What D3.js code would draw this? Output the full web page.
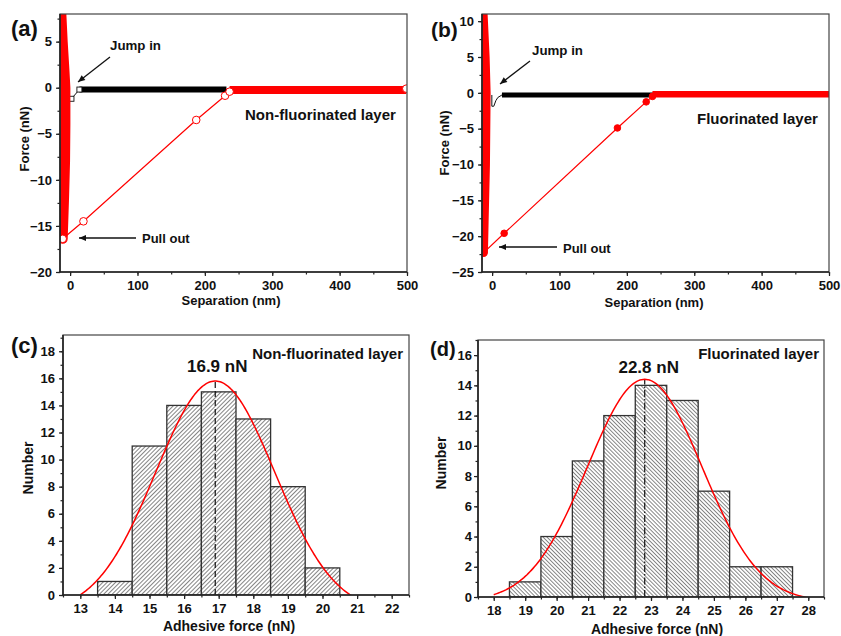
<!DOCTYPE html>
<html>
<head>
<meta charset="utf-8">
<script src="https://cdn.jsdelivr.net/npm/d3@7"></script>
<style>
  html, body { margin: 0; padding: 0; background: #fff; }
  svg text { font-family: "Liberation Sans", Arial, sans-serif; font-weight: bold; fill: #111; }
</style>
</head>
<body>
<svg id="fig" width="841" height="636"></svg>
<script>
// ---------- (a) force curve, non-fluorinated layer ----------
const jumpInA = [[-1, -0.9], [-1, -1.2], [2, -1.2], [13.8, -0.2]];
const jumpInMarksA = [[2, -1.2], [13.8, -0.2]];
const approachA = [[13.8, -0.2], [232, -0.2]];
const retractContactA = [[-13, 8], [-11, 5], [-8.5, 2], [-7, 0], [-7, -4], [-7.5, -8], [-9, -12], [-11, -16.4]];
const retractPullA = [[-11, -16.4], [19.8, -14.5], [187.2, -3.5], [230, -0.87], [236.7, -0.43]];
const retractBaseA = [[236.7, -0.25], [499, -0.25]];
const retractEndA = [[499, -0.1]];
const yTicksA = [-20, -15, -10, -5, 0, 5];

// ---------- (b) force curve, fluorinated layer ----------
const jumpInB = [[-0.4, -0.3], [-0.4, -1.87], [2.5, -1.87], [5.5, -1.1], [8.5, -0.65], [14.6, -0.3]];
const approachB = [[14.6, -0.3], [240, -0.3]];
const retractContactB = [[-13, 11], [-10, 5], [-8.5, 0], [-9.5, -10], [-11.5, -18], [-12.5, -22.3]];
const retractPullB = [[-12.5, -22.3], [17.9, -19.6], [186, -4.9], [228.7, -1.26], [238, -0.5]];
const retractBaseB = [[238, -0.2], [500, -0.2]];
const yTicksB = [-25, -20, -15, -10, -5, 0, 5, 10];

const sepTicks = [0, 100, 200, 300, 400, 500];

// ---------- (c) adhesive force histogram, non-fluorinated ----------
const binsC = [14, 15, 16, 17, 18, 19, 20];
const countsC = [1, 11, 14, 15, 13, 8, 2];
const fitC = { y0: -1.3, A: 17.1, mu: 16.9, sigma: 1.72, from: 13, to: 21 };
const meanC = 16.9;
const xTicksC = [13, 14, 15, 16, 17, 18, 19, 20, 21, 22];
const yTicksC = [0, 2, 4, 6, 8, 10, 12, 14, 16, 18];

// ---------- (d) adhesive force histogram, fluorinated ----------
const binsD = [19, 20, 21, 22, 23, 24, 25, 26, 27];
const countsD = [1, 4, 9, 12, 14, 13, 7, 2, 2];
const fitD = { y0: -0.3, A: 14.7, mu: 22.8, sigma: 1.82, from: 18, to: 28 };
const meanD = 22.8;
const xTicksD = [18, 19, 20, 21, 22, 23, 24, 25, 26, 27, 28];
const yTicksD = [0, 2, 4, 6, 8, 10, 12, 14, 16];

const svg = d3.select("#fig");
const defs = svg.append("defs");

function hatch(id, angle, gap) {
  const p = defs.append("pattern")
    .attr("id", id).attr("patternUnits", "userSpaceOnUse")
    .attr("width", gap).attr("height", 10)
    .attr("patternTransform", `rotate(${angle})`);
  p.append("rect").attr("width", gap).attr("height", 10).attr("fill", "#fff");
  p.append("line").attr("x1", gap / 2).attr("x2", gap / 2).attr("y1", 0).attr("y2", 10)
    .attr("stroke", "#666").attr("stroke-width", 0.8);
}
hatch("hatchC", 45, 3.0);
hatch("hatchD", -45, 2.8);

// Build a framed panel with scales and ticked axes
function panel(o) {
  const g = svg.append("g");
  const x = d3.scaleLinear().domain(o.xDomain).range([o.left, o.right]);
  const y = d3.scaleLinear().domain(o.yDomain).range([o.bottom, o.top]);
  const clipId = o.id + "clip";
  defs.append("clipPath").attr("id", clipId).append("rect")
    .attr("x", o.left).attr("y", o.top).attr("width", o.right - o.left).attr("height", o.bottom - o.top);
  const plot = g.append("g").attr("clip-path", `url(#${clipId})`);

  const axes = g.append("g");
  // minor ticks
  axes.append("g").attr("transform", `translate(0,${o.bottom})`)
    .call(d3.axisBottom(x).tickValues(o.xMinor).tickSize(2.5).tickSizeOuter(0).tickFormat(""));
  axes.append("g").attr("transform", `translate(${o.left},0)`)
    .call(d3.axisLeft(y).tickValues(o.yMinor).tickSize(2.5).tickSizeOuter(0).tickFormat(""));
  // major ticks
  axes.append("g").attr("transform", `translate(0,${o.bottom})`)
    .call(d3.axisBottom(x).tickValues(o.xTicks).tickSize(4).tickSizeOuter(0).tickPadding(5).tickFormat(d3.format("d")));
  axes.append("g").attr("transform", `translate(${o.left},0)`)
    .call(d3.axisLeft(y).tickValues(o.yTicks).tickSize(4).tickSizeOuter(0).tickPadding(o.yPad).tickFormat(d3.format("d")));
  axes.selectAll(".domain").remove();
  axes.selectAll(".tick line").attr("stroke", "#222").attr("stroke-width", 1.2);
  axes.selectAll(".tick text").attr("font-size", 13).attr("fill", "#111")
    .style("font-family", '"Liberation Sans", Arial, sans-serif').style("font-weight", "bold");

  // frame
  g.append("rect").attr("x", o.left).attr("y", o.top)
    .attr("width", o.right - o.left).attr("height", o.bottom - o.top)
    .attr("fill", "none").attr("stroke", "#444").attr("stroke-width", 1.2);
  g.append("line").attr("x1", o.left).attr("x2", o.left).attr("y1", o.top).attr("y2", o.bottom + 0.6)
    .attr("stroke", "#222").attr("stroke-width", 1.6);
  g.append("line").attr("x1", o.left - 0.6).attr("x2", o.right).attr("y1", o.bottom).attr("y2", o.bottom)
    .attr("stroke", "#222").attr("stroke-width", 1.6);

  // axis titles
  g.append("text").attr("x", o.xTitleX).attr("y", o.xTitleY).attr("text-anchor", "middle")
    .attr("font-size", o.titleSize).text(o.xTitle);
  g.append("text").attr("transform", `translate(${o.yTitleX},${o.yTitleY}) rotate(-90)`)
    .attr("text-anchor", "middle").attr("font-size", o.titleSize).text(o.yTitle);
  // panel letter
  g.append("text").attr("x", o.tagX).attr("y", o.tagY).attr("font-size", o.tagSize).text(o.tag);
  return { g, plot, x, y };
}

const minorRange = (a, b, s) => d3.range(a, b + s / 2, s);

// ---------- force-separation panels ----------
function forcePanel(o, d) {
  const P = panel(o);
  const line = d3.line().x(p => P.x(p[0])).y(p => P.y(p[1]));
  // approach (black)
  P.plot.append("path").attr("d", line(d.jump)).attr("fill", "none").attr("stroke", "#111").attr("stroke-width", 1);
  P.plot.append("path").attr("d", line(d.approach)).attr("fill", "none").attr("stroke", "#000").attr("stroke-width", d.appW);
  if (d.jumpMarks) {
    P.plot.selectAll(".sq").data(d.jumpMarks).join("rect")
      .attr("x", p => P.x(p[0]) - 2.5).attr("y", p => P.y(p[1]) - 2.5)
      .attr("width", 5).attr("height", 5).attr("fill", "#fff").attr("stroke", "#111").attr("stroke-width", 0.9);
  }
  // retract (red)
  P.plot.append("path").attr("d", line(d.contact)).attr("fill", "none").attr("stroke", "#ff0000")
    .attr("stroke-width", d.contactW).attr("stroke-linejoin", "round").attr("stroke-linecap", "round");
  P.plot.append("path").attr("d", line(d.base)).attr("fill", "none").attr("stroke", "#ff0000").attr("stroke-width", d.baseW);
  P.plot.append("path").attr("d", line(d.pull)).attr("fill", "none").attr("stroke", "#ff0000").attr("stroke-width", 1.2);
  P.plot.selectAll(".mk").data(d.pull.concat(d.endMarks || [])).join("circle")
    .attr("cx", p => P.x(p[0])).attr("cy", p => P.y(p[1])).attr("r", d.markR)
    .attr("fill", d.markFill).attr("stroke", "#ff0000").attr("stroke-width", 1);

  // annotations
  const arrowHead = (x1, y1, x2, y2) => {
    const a = Math.atan2(y2 - y1, x2 - x1), L = 7, w = 3;
    const bx = x2 - L * Math.cos(a), by = y2 - L * Math.sin(a);
    return `M${x2},${y2}L${bx + w * Math.sin(a)},${by - w * Math.cos(a)}L${bx - w * Math.sin(a)},${by + w * Math.cos(a)}Z`;
  };
  for (const ar of d.arrows) {
    P.g.append("line").attr("x1", ar[0]).attr("y1", ar[1]).attr("x2", ar[2]).attr("y2", ar[3])
      .attr("stroke", "#111").attr("stroke-width", 1.3);
    P.g.append("path").attr("d", arrowHead(...ar)).attr("fill", "#111");
  }
  for (const t of d.texts) {
    P.g.append("text").attr("x", t[0]).attr("y", t[1]).attr("font-size", t[3]).text(t[2]);
  }
  return P;
}

forcePanel({
  id: "a", left: 60, right: 407, top: 14, bottom: 272,
  xDomain: [-15, 500], yDomain: [-20, 8],
  xTicks: sepTicks, xMinor: minorRange(0, 500, 50),
  yTicks: yTicksA, yMinor: minorRange(-20, 7.5, 2.5), yPad: 4,
  xTitle: "Separation (nm)", xTitleX: 231, xTitleY: 305, titleSize: 13,
  yTitle: "Force (nN)", yTitleX: 29, yTitleY: 139,
  tag: "(a)", tagX: 11, tagY: 36, tagSize: 22
}, {
  jump: jumpInA, jumpMarks: jumpInMarksA, approach: approachA, appW: 6,
  contact: retractContactA, contactW: 10, base: retractBaseA, baseW: 8,
  pull: retractPullA, endMarks: retractEndA, markR: 3.8, markFill: "#fff",
  arrows: [[110, 57, 78, 82], [136, 238, 79, 238]],
  texts: [[110, 50, "Jump in", 13.3], [142, 242.5, "Pull out", 13], [245, 119.5, "Non-fluorinated layer", 15]]
});

forcePanel({
  id: "b", left: 482, right: 829, top: 14, bottom: 272,
  xDomain: [-15, 500], yDomain: [-25, 11],
  xTicks: sepTicks, xMinor: minorRange(0, 500, 50),
  yTicks: yTicksB, yMinor: minorRange(-25, 10, 2.5), yPad: 4,
  xTitle: "Separation (nm)", xTitleX: 654, xTitleY: 307, titleSize: 13,
  yTitle: "Force (nN)", yTitleX: 449, yTitleY: 143,
  tag: "(b)", tagX: 431, tagY: 37, tagSize: 21
}, {
  jump: jumpInB, approach: approachB, appW: 5,
  contact: retractContactB, contactW: 8.5, base: retractBaseB, baseW: 6.5,
  pull: retractPullB, markR: 3.3, markFill: "#ff0000",
  arrows: [[530, 61, 500, 84], [557, 247, 499, 247]],
  texts: [[532, 55, "Jump in", 13.3], [563, 252.5, "Pull out", 13], [697, 123.5, "Fluorinated layer", 15]]
});

// ---------- histogram panels ----------
function histPanel(o, d) {
  const P = panel(o);
  P.plot.selectAll(".bar").data(d.bins.map((b, i) => [b, d.counts[i]])).join("rect")
    .attr("x", p => P.x(p[0] - 0.5)).attr("width", p => P.x(p[0] + 0.5) - P.x(p[0] - 0.5))
    .attr("y", p => P.y(p[1])).attr("height", p => P.y(0) - P.y(p[1]))
    .attr("fill", `url(#${d.hatch})`).attr("stroke", "#333").attr("stroke-width", 1.3);
  // mean marker
  P.plot.append("line").attr("x1", P.x(d.mean)).attr("x2", P.x(d.mean))
    .attr("y1", P.y(0)).attr("y2", P.y(d.fit.y0 + d.fit.A))
    .attr("stroke", "#111").attr("stroke-width", 1.2).attr("stroke-dasharray", d.dash);
  // Gaussian fit
  const f = d.fit;
  const xs = d3.range(f.from, f.to + 1e-9, (f.to - f.from) / 200);
  const pts = xs.map(v => [v, f.y0 + f.A * Math.exp(-((v - f.mu) ** 2) / (2 * f.sigma ** 2))]);
  P.plot.append("path").attr("d", d3.line().x(p => P.x(p[0])).y(p => P.y(p[1]))(pts))
    .attr("fill", "none").attr("stroke", "#ff0000").attr("stroke-width", 1.5);
  P.g.append("text").attr("x", P.x(d.mean) + d.meanDx).attr("y", d.meanY).attr("text-anchor", "middle")
    .attr("font-size", 17).text(d.mean.toFixed(1) + " nN");
  P.g.append("text").attr("x", d.labelX).attr("y", d.labelY).attr("text-anchor", "end")
    .attr("font-size", 15).text(d.label);
  return P;
}

histPanel({
  id: "c", left: 63, right: 409, top: 335, bottom: 595,
  xDomain: [12.5, 22.5], yDomain: [0, 19.2],
  xTicks: xTicksC, xMinor: minorRange(12.5, 22.5, 0.5),
  yTicks: yTicksC, yMinor: minorRange(0, 19, 1), yPad: 4,
  xTitle: "Adhesive force (nN)", xTitleX: 229, xTitleY: 631, titleSize: 14,
  yTitle: "Number", yTitleX: 33, yTitleY: 468,
  tag: "(c)", tagX: 11, tagY: 353, tagSize: 22
}, {
  bins: binsC, counts: countsC, fit: fitC, mean: meanC, hatch: "hatchC", dash: "6,3",
  meanDx: 2, meanY: 372, label: "Non-fluorinated layer", labelX: 403, labelY: 358.5
});

histPanel({
  id: "d", left: 478, right: 824, top: 340, bottom: 597,
  xDomain: [17.5, 28.5], yDomain: [0, 17],
  xTicks: xTicksD, xMinor: minorRange(17.5, 28.5, 0.5),
  yTicks: yTicksD, yMinor: minorRange(0, 17, 1), yPad: 2,
  xTitle: "Adhesive force (nN)", xTitleX: 657, xTitleY: 634, titleSize: 14,
  yTitle: "Number", yTitleX: 446, yTitleY: 463,
  tag: "(d)", tagX: 430, tagY: 356, tagSize: 20
}, {
  bins: binsD, counts: countsD, fit: fitD, mean: meanD, hatch: "hatchD", dash: "7,2,1.5,2",
  meanDx: 4, meanY: 373, label: "Fluorinated layer", labelX: 819, labelY: 358.5
});
</script>
</body>
</html>
